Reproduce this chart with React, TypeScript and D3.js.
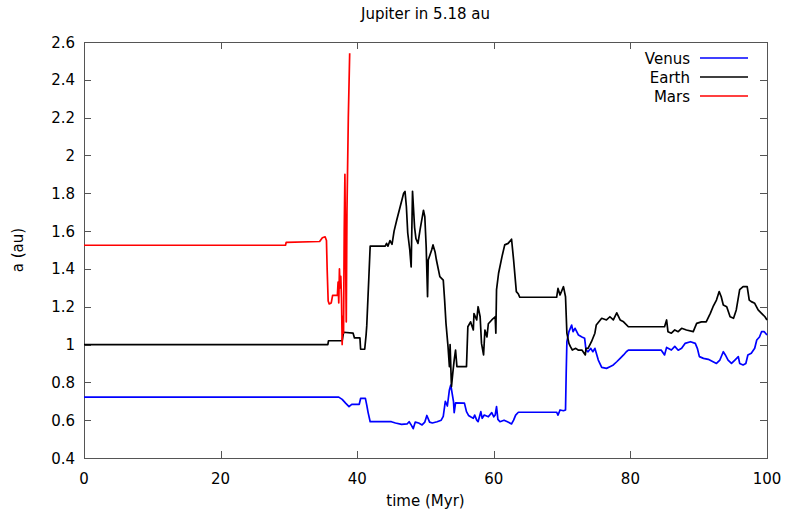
import React from "react";
import * as d3 from "d3";

const xTicks = [0, 20, 40, 60, 80, 100];
const yTicks = [0.4, 0.6, 0.8, 1.0, 1.2, 1.4, 1.6, 1.8, 2.0, 2.2, 2.4, 2.6];
const seriesNames = ["Venus", "Earth", "Mars"];
const seriesColors = ["#0000ff", "#000000", "#ff0000"];

const venus: [number, number][] = [
  [0, 0.722], [37.3, 0.722], [37.8, 0.71], [38.3, 0.69], [38.8, 0.672], [39.2, 0.684], [40.3, 0.684],
  [40.5, 0.715], [41.2, 0.715], [41.4, 0.68], [41.6, 0.64], [41.9, 0.592], [45, 0.592], [45.6, 0.585],
  [46.5, 0.578], [47.3, 0.58], [47.6, 0.592], [47.9, 0.575], [48.2, 0.555], [48.5, 0.59], [49.0, 0.585],
  [49.5, 0.575], [49.9, 0.59], [50.2, 0.625], [50.6, 0.59], [51.0, 0.585], [51.7, 0.592], [52.3, 0.6],
  [52.6, 0.62], [52.9, 0.7], [53.2, 0.675], [53.5, 0.76], [53.7, 0.786], [53.9, 0.742], [54.1, 0.698],
  [54.2, 0.64], [54.4, 0.692], [55.7, 0.69], [56.0, 0.645], [56.3, 0.625], [56.6, 0.618], [57.0, 0.61],
  [57.2, 0.627], [57.5, 0.6], [57.7, 0.592], [58.1, 0.645], [58.3, 0.61], [58.6, 0.627], [59.2, 0.618],
  [59.7, 0.64], [60.0, 0.618], [60.2, 0.627], [60.4, 0.672], [60.6, 0.604], [60.9, 0.592], [61.5, 0.6],
  [62.0, 0.592], [62.6, 0.58], [62.9, 0.6], [63.2, 0.627], [63.6, 0.642], [69.2, 0.642], [69.4, 0.627],
  [69.7, 0.654], [70.2, 0.65], [70.5, 0.654], [70.6, 0.85], [70.7, 1.015], [71.0, 1.068], [71.4, 1.103],
  [71.6, 1.068], [71.9, 1.086], [72.4, 1.05], [72.9, 1.04], [73.3, 1.033], [73.5, 0.971], [73.8, 0.962],
  [74.2, 0.98], [74.5, 0.962], [74.8, 0.98], [75.3, 0.918], [75.8, 0.879], [76.5, 0.874], [77.0, 0.883],
  [77.5, 0.892], [78.0, 0.909], [78.5, 0.927], [79.0, 0.945], [79.4, 0.962], [79.7, 0.971], [84.5, 0.971],
  [85.0, 0.945], [85.3, 0.985], [86.0, 0.971], [86.5, 0.99], [87.0, 0.97], [87.5, 0.98], [88.0, 1.006],
  [88.8, 1.015], [89.5, 1.006], [89.8, 0.98], [90.1, 0.936], [90.7, 0.927], [91.4, 0.922], [92.1, 0.909],
  [92.6, 0.9], [93.1, 0.918], [93.6, 0.962], [93.9, 0.945], [94.3, 0.918], [94.8, 0.9], [95.3, 0.918],
  [95.8, 0.936], [96.0, 0.9], [96.5, 0.892], [96.9, 0.9], [97.2, 0.945], [97.7, 0.954], [98.2, 0.98],
  [98.5, 1.024], [98.9, 1.04], [99.2, 1.068], [99.6, 1.068], [100, 1.05],
];

const earth: [number, number][] = [
  [0, 1.0], [35.7, 1.0], [35.8, 1.02], [37.8, 1.02], [38.0, 1.065], [39.4, 1.06], [39.6, 1.035], [40.4, 1.035],
  [40.5, 0.975], [41.1, 0.975], [41.3, 1.05], [41.4, 1.1], [41.7, 1.35], [41.9, 1.52], [44.1, 1.52],
  [44.3, 1.535], [44.5, 1.52], [44.8, 1.55], [45.1, 1.53], [45.4, 1.6], [45.8, 1.66], [46.3, 1.73],
  [46.8, 1.8], [47.0, 1.81], [47.2, 1.73], [47.4, 1.59], [47.7, 1.5], [47.9, 1.41], [48.1, 1.81],
  [48.4, 1.62], [48.6, 1.56], [48.9, 1.535], [49.2, 1.606], [49.7, 1.71], [49.9, 1.676], [50.1, 1.517],
  [50.3, 1.253], [50.4, 1.447], [50.9, 1.5], [51.1, 1.527], [51.4, 1.49], [51.6, 1.447], [52.1, 1.359],
  [52.6, 1.341], [52.8, 1.235], [53.0, 1.112], [53.3, 0.988], [53.5, 0.883], [53.6, 1.0], [53.8, 0.777],
  [54.0, 0.85], [54.2, 0.918], [54.4, 0.971], [54.6, 0.883], [56.0, 0.883], [56.2, 1.094], [56.6, 1.12],
  [57.0, 1.077], [57.1, 1.164], [57.5, 1.13], [57.7, 1.2], [58.0, 1.147], [58.2, 1.006], [58.5, 0.945],
  [58.7, 1.077], [59.0, 1.04], [59.2, 1.11], [59.7, 1.13], [60.2, 1.147], [60.3, 1.06], [60.4, 1.29],
  [60.7, 1.377], [61.2, 1.465], [61.6, 1.527], [62.1, 1.535], [62.6, 1.557], [62.9, 1.447], [63.3, 1.28],
  [63.6, 1.267], [63.8, 1.25], [69.2, 1.25], [69.4, 1.297], [69.7, 1.262], [70.2, 1.306], [70.5, 1.253],
  [70.7, 1.06], [71.0, 1.006], [71.2, 0.99], [71.5, 0.971], [72.0, 0.98], [72.4, 0.97], [72.9, 0.971],
  [73.4, 0.945], [73.5, 0.98], [73.8, 0.98], [74.3, 1.015], [74.8, 1.06], [75.0, 1.103], [75.8, 1.139],
  [76.5, 1.13], [77.0, 1.147], [77.5, 1.13], [78.0, 1.168], [78.5, 1.13], [79.0, 1.12], [79.7, 1.094],
  [85.0, 1.094], [85.3, 1.13], [85.5, 1.068], [86.0, 1.06], [86.5, 1.077], [87.0, 1.068], [87.5, 1.086],
  [88.2, 1.077], [89.2, 1.068], [89.7, 1.112], [90.4, 1.12], [91.1, 1.12], [91.7, 1.165], [92.1, 1.2],
  [92.6, 1.235], [93.0, 1.28], [93.3, 1.253], [93.6, 1.209], [94.1, 1.2], [94.6, 1.147], [95.1, 1.139],
  [95.5, 1.183], [96.0, 1.29], [96.5, 1.306], [97.1, 1.306], [97.4, 1.235], [97.7, 1.227], [98.2, 1.218],
  [98.7, 1.183], [99.2, 1.165], [99.7, 1.147], [100, 1.13],
];

const mars: [number, number][] = [
  [0, 1.525], [29.5, 1.525], [29.6, 1.54], [34.5, 1.545], [34.9, 1.565], [35.3, 1.57], [35.5, 1.55],
  [35.6, 1.4], [35.75, 1.23], [35.9, 1.215], [36.2, 1.22], [36.4, 1.26], [37.1, 1.26], [37.2, 1.33],
  [37.3, 1.22], [37.4, 1.4], [37.5, 1.3], [37.6, 1.36], [37.7, 1.25], [37.8, 1.0], [37.9, 1.15],
  [38.0, 1.06], [38.1, 1.6], [38.2, 1.9], [38.3, 1.45], [38.4, 1.12], [38.5, 1.7], [38.7, 2.2], [38.9, 2.54],
];

const allSeries = [venus, earth, mars];

const W = 788, H = 512;
const L = 84, R = 767, T = 42, B = 458;
const FONT = "DejaVu Sans, sans-serif";
const FS = 15;

export default function App() {
  const x = d3.scaleLinear().domain([0, 100]).range([L, R]);
  const y = d3.scaleLinear().domain([0.4, 2.6]).range([B, T]);
  const line = d3.line<[number, number]>().x(d => x(d[0])).y(d => y(d[1]));
  const fmt = (v: number) => (Math.abs(v - Math.round(v)) < 1e-9 ? String(Math.round(v)) : d3.format(".1f")(v));
  const tickLen = 7;
  const axisColor = "#555";
  return (
    <svg width={W} height={H} style={{ position: "absolute", left: 0, top: 0, background: "#fff" }} fontFamily={FONT}>
      <rect x={0} y={0} width={W} height={H} fill="#fff" />
      <text x={(L + R) / 2} y={19} textAnchor="middle" fontSize={FS}>Jupiter in 5.18 au</text>
      {xTicks.map(t => (
        <g key={"x" + t}>
          <line x1={Math.round(x(t)) + 0.5} x2={Math.round(x(t)) + 0.5} y1={B} y2={B - tickLen} stroke={axisColor} />
          <line x1={Math.round(x(t)) + 0.5} x2={Math.round(x(t)) + 0.5} y1={T} y2={T + tickLen} stroke={axisColor} />
          <text x={x(t)} y={B + 26} textAnchor="middle" fontSize={FS}>{fmt(t)}</text>
        </g>
      ))}
      {yTicks.map(t => (
        <g key={"y" + t}>
          <line x1={L} x2={L + tickLen} y1={Math.round(y(t)) + 0.5} y2={Math.round(y(t)) + 0.5} stroke={axisColor} />
          <line x1={R} x2={R - tickLen} y1={Math.round(y(t)) + 0.5} y2={Math.round(y(t)) + 0.5} stroke={axisColor} />
          <text x={75} y={y(t) + 5.5} textAnchor="end" fontSize={FS}>{fmt(t)}</text>
        </g>
      ))}
      <rect x={L + 0.5} y={T + 0.5} width={R - L} height={B - T} fill="none" stroke={axisColor} />
      <text x={0} y={0} transform={`translate(23,${(T + B) / 2}) rotate(-90)`} textAnchor="middle" fontSize={FS}>a (au)</text>
      <text x={(L + R) / 2} y={506} textAnchor="middle" fontSize={FS}>time (Myr)</text>
      {allSeries.map((s, i) => (
        <path key={"s" + i} d={line(s) || ""} fill="none" stroke={seriesColors[i]} strokeWidth={1.7} strokeLinejoin="round" />
      ))}
      {seriesNames.map((n, i) => (
        <g key={"l" + n}>
          <text x={690} y={58 + i * 19 + 5.5} textAnchor="end" fontSize={FS}>{n}</text>
          <line x1={700} x2={748} y1={58 + i * 19} y2={58 + i * 19} stroke={seriesColors[i]} strokeWidth={1.6} />
        </g>
      ))}
    </svg>
  );
}
